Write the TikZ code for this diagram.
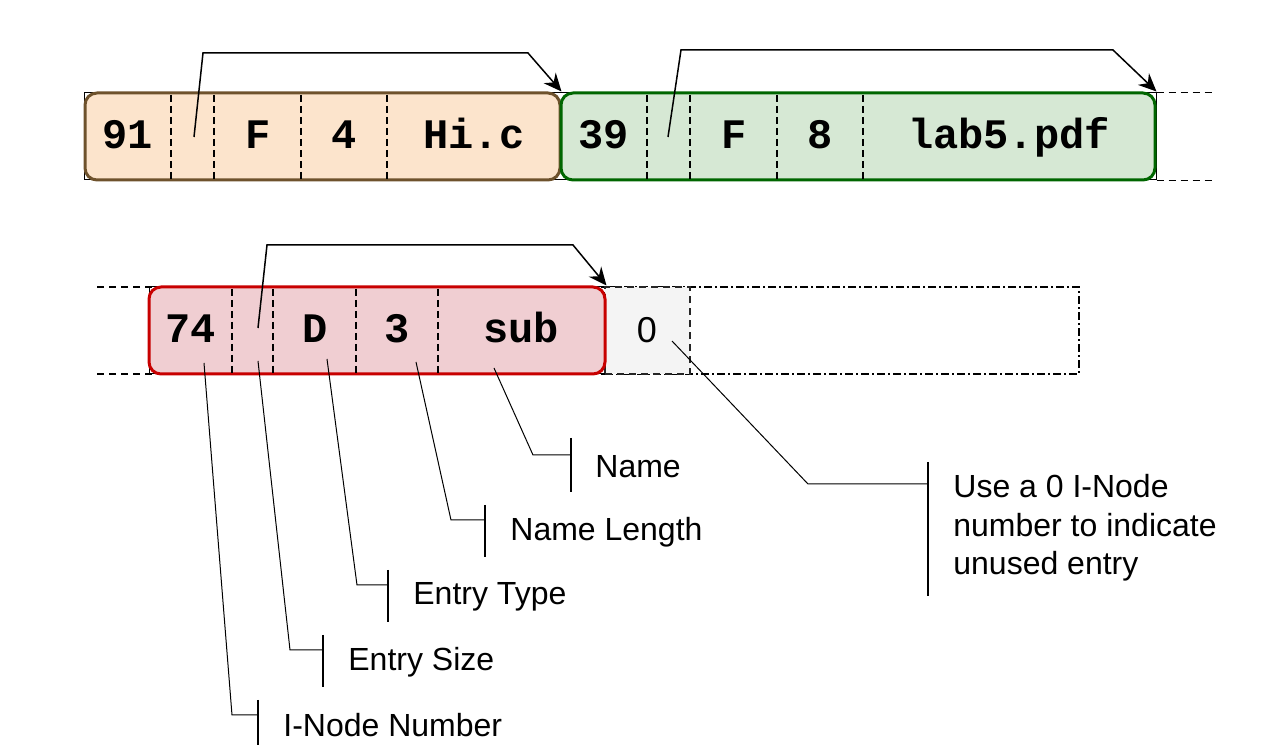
\documentclass[tikz,border=0pt]{standalone}
\usepackage{fontspec}
\setmainfont{Liberation Sans}
\newfontfamily\monob{Liberation Mono}
\usetikzlibrary{arrows.meta}
\definecolor{orfill}{RGB}{252,228,204}
\definecolor{ordraw}{RGB}{110,82,44}
\definecolor{grfill}{RGB}{214,232,212}
\definecolor{grdraw}{RGB}{0,102,0}
\definecolor{rdfill}{RGB}{240,206,210}
\definecolor{rddraw}{RGB}{200,0,0}
\definecolor{gyfill}{RGB}{244,244,244}
\begin{document}
\begin{tikzpicture}[x=0.5pt,y=-0.5pt,
  cell/.style={font=\monob\bfseries\fontsize{21}{25}\selectfont, inner sep=0pt, anchor=base},
  zero/.style={font=\fontsize{18}{21}\selectfont, inner sep=0pt, anchor=base},
  lbl/.style={font=\fontsize{16}{19.2}\selectfont, anchor=west, inner sep=0pt, align=left},
  divider/.style={dash pattern=on 3.5pt off 2pt, line width=0.9pt},
  extline/.style={dash pattern=on 3.5pt off 2.5pt, line width=0.6pt},
  leader/.style={line width=0.5pt},
  barline/.style={line width=0.6pt},
  link/.style={line width=0.75pt, -{Stealth[length=9pt,width=8pt,inset=3pt]}},
  entrybox/.style={rounded corners=6pt, line width=1.5pt, minimum height=43.5pt, inner sep=0pt},
  frame/.style={line width=0.5pt, minimum height=43.5pt, inner sep=0pt}
]
\useasboundingbox (0,0) rectangle (1266,754);

% ---------- Row 1 ----------
\node[frame, draw, minimum width=536pt] (f1) at (620,136.5) {};
\draw[extline] (f1.north east) -- ++(56,0);
\draw[extline] (f1.south east) -- ++(56,0);
\node[entrybox, draw=ordraw, fill=orfill, minimum width=237.5pt] (e1) at (322.5,136.5) {};
\node[entrybox, draw=grdraw, fill=grfill, minimum width=297pt] (e2) at (858,136.5) {};
\foreach \x in {171,214,301,387,647,690,777,863}
  \draw[divider] (\x,95) -- (\x,179);
\node[cell] (a1) at (128,149) {91};
\node[cell] (a3) at (258,149) {F};
\node[cell] (a4) at (344,149) {4};
\node[cell] (a5) at (474,149) {Hi.c};
\node[cell] (b1) at (604,149) {39};
\node[cell] (b3) at (734,149) {F};
\node[cell] (b4) at (820,149) {8};
\node[cell] (b5) at (1009,149) {lab5.pdf};

\coordinate (s1) at (194,137);
\coordinate (s1a) at (203,53);
\coordinate (s1b) at (528,53);
\draw[link] (s1) -- (s1a) -- (s1b) -- (e1.north east);
\coordinate (s2) at (668,137);
\coordinate (s2a) at (681,50);
\coordinate (s2b) at (1113,50);
\draw[link] (s2) -- (s2a) -- (s2b) -- (e2.north east);

% ---------- Row 2 ----------
\draw[extline] (97,287) -- (605,287);
\draw[extline] (97,374) -- (605,374);
\node[frame, draw, minimum width=228pt] (f3) at (377,330.5) {};
\node[frame, draw, line width=0.6pt, dash pattern=on 4pt off 1.5pt on 1pt off 1.5pt, minimum width=237pt] (unused) at (842,330.5) {};
\node[frame, draw=black!85, line width=0.7pt, fill=gyfill, dash pattern=on 3.5pt off 2.5pt, minimum width=42.5pt] (g) at (647.5,330.5) {};
\node[zero] (z) at (647,343) {0};
\node[entrybox, draw=rddraw, fill=rdfill, minimum width=228pt] (e3) at (377,330.5) {};
\foreach \x in {232,273,356,438}
  \draw[divider] (\x,289) -- (\x,373);
\node[cell] (c1) at (191,343) {74};
\node[cell] (c3) at (315,343) {D};
\node[cell] (c4) at (397,343) {3};
\node[cell] (c5) at (521,343) {sub};

\coordinate (s3) at (258,328);
\coordinate (s3a) at (267,245);
\coordinate (s3b) at (573,245);
\draw[link] (s3) -- (s3a) -- (s3b) -- (e3.north east);

% ---------- Labels ----------
\node[lbl] (lname) at (595,467) {Name};
\node[lbl] (llen) at (510,532) {Name Length};
\node[lbl] (ltype) at (413,597) {Entry Type};
\node[lbl] (lsize) at (348,662) {Entry Size};
\node[lbl] (lino) at (283,725) {I-Node Number};
\node[lbl] (lzero) at (953,528) {Use a 0 I-Node\\number to indicate\\unused entry};

% bars
\draw[barline] (571,438) -- (571,492);
\draw[barline] (485,505) -- (485,557);
\draw[barline] (388,570) -- (388,622);
\draw[barline] (323,635) -- (323,687);
\draw[barline] (258,700) -- (258,745);
\draw[barline] (928,462) -- (928,596);

% leaders
\coordinate (pname) at (494,368);
\coordinate (plen) at (416,362);
\coordinate (ptype) at (327,359);
\coordinate (psize) at (258,361);
\coordinate (pino) at (204,363);
\coordinate (pzero) at (672,341);
\coordinate (qname) at (571,455);
\coordinate (qlen) at (485,520);
\coordinate (qtype) at (388,585);
\coordinate (qsize) at (323,650);
\coordinate (qino) at (258,715);
\coordinate (qzero) at (928,484);
\draw[leader] (pname) -- (533,455) -- (qname);
\draw[leader] (plen) -- (451,520) -- (qlen);
\draw[leader] (ptype) -- (357,585) -- (qtype);
\draw[leader] (psize) -- (290,650) -- (qsize);
\draw[leader] (pino) -- (232,715) -- (qino);
\draw[leader] (pzero) -- (808,484) -- (qzero);
\end{tikzpicture}
\end{document}
